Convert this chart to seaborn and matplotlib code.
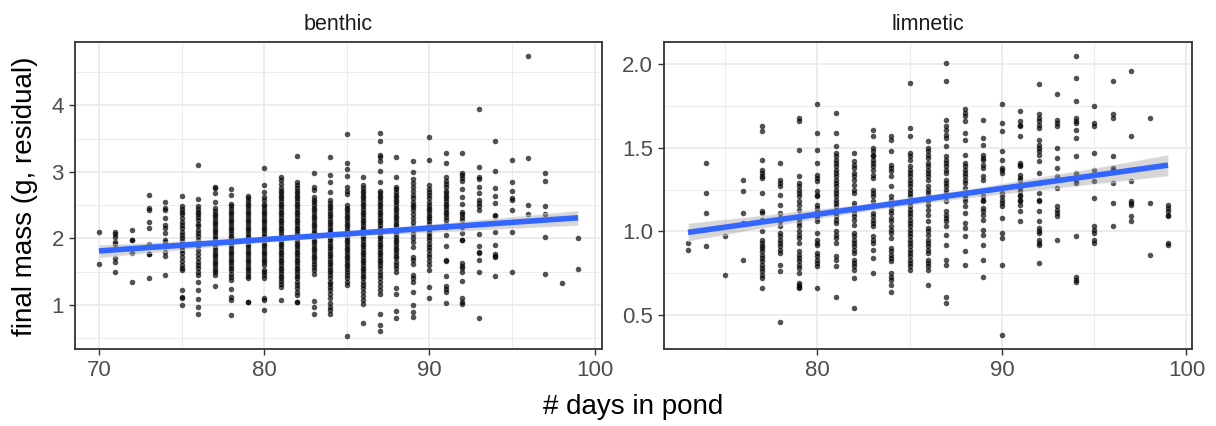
import numpy as np
import pandas as pd
import matplotlib
matplotlib.use("Agg")
import matplotlib.pyplot as plt
import seaborn as sns
from matplotlib.ticker import MultipleLocator, FormatStrFormatter
from matplotlib.collections import PolyCollection

# ---------------- data ----------------
panel_titles = ["benthic", "limnetic"]
x_label = "# days in pond"
y_label = "final mass (g, residual)"

benthic_days = list(range(70, 100))
benthic_mass = [
    [2.09, 1.61],
    [2.10, 2.06, 2.02, 1.95, 1.92, 1.70, 1.65, 1.49],
    [2.13, 1.98, 1.97, 1.78, 1.35],
    [2.65, 2.45, 2.43, 2.24, 2.15, 1.92, 1.77, 1.76, 1.41],
    [2.54, 2.45, 2.42, 2.31, 2.20, 2.15, 2.08, 1.98, 1.95, 1.88, 1.80, 1.74, 1.45],
    [2.64, 2.48, 2.44, 2.40, 2.36, 2.30, 2.25, 2.20, 2.15, 2.10, 2.05, 2.00, 1.96, 1.92, 1.87, 1.82, 1.78,
     1.72, 1.66, 1.60, 1.55, 1.52, 1.23, 1.12, 1.10, 1.00],
    [3.10, 2.59, 2.48, 2.44, 2.40, 2.36, 2.32, 2.27, 2.22, 2.18, 2.13, 2.08, 2.03, 1.98, 1.93, 1.88, 1.83,
     1.76, 1.70, 1.65, 1.60, 1.55, 1.50, 1.45, 1.35, 1.22, 1.09, 0.97, 0.87],
    [2.78, 2.76, 2.68, 2.55, 2.45, 2.41, 2.37, 2.33, 2.29, 2.25, 2.21, 2.17, 2.13, 2.09, 2.05, 2.01, 1.97,
     1.93, 1.89, 1.85, 1.81, 1.77, 1.73, 1.69, 1.65, 1.61, 1.57, 1.53, 1.49, 1.45, 1.28],
    [2.74, 2.65, 2.52, 2.48, 2.44, 2.40, 2.36, 2.32, 2.28, 2.24, 2.20, 2.16, 2.12, 2.08, 2.04, 2.00, 1.96,
     1.92, 1.88, 1.84, 1.80, 1.76, 1.72, 1.68, 1.64, 1.60, 1.56, 1.52, 1.47, 1.42, 1.38, 1.24, 1.12, 1.08, 0.85],
    [2.63, 2.60, 2.56, 2.52, 2.48, 2.44, 2.40, 2.36, 2.32, 2.28, 2.24, 2.20, 2.16, 2.12, 2.08, 2.04, 2.00,
     1.96, 1.92, 1.88, 1.84, 1.80, 1.76, 1.72, 1.68, 1.64, 1.60, 1.56, 1.52, 1.48, 1.44, 1.40, 1.04, 1.05],
    [3.06, 2.81, 2.70, 2.62, 2.57, 2.52, 2.48, 2.44, 2.40, 2.36, 2.32, 2.28, 2.24, 2.20, 2.16, 2.12, 2.08,
     2.04, 2.00, 1.96, 1.92, 1.88, 1.84, 1.80, 1.76, 1.72, 1.68, 1.64, 1.60, 1.53, 1.50, 1.45, 1.40, 1.11,
     1.07, 0.93],
    [2.93, 2.88, 2.82, 2.76, 2.72, 2.68, 2.64, 2.60, 2.56, 2.52, 2.48, 2.44, 2.40, 2.36, 2.32, 2.28, 2.24,
     2.20, 2.16, 2.12, 2.08, 2.04, 2.00, 1.96, 1.92, 1.88, 1.84, 1.80, 1.76, 1.72, 1.68, 1.64, 1.60, 1.56,
     1.52, 1.48, 1.44, 1.40, 1.36, 1.31, 1.27, 1.07],
    [3.24, 2.85, 2.80, 2.76, 2.72, 2.68, 2.64, 2.60, 2.56, 2.52, 2.48, 2.44, 2.40, 2.36, 2.32, 2.28, 2.24,
     2.20, 2.16, 2.12, 2.08, 2.04, 2.00, 1.96, 1.92, 1.88, 1.84, 1.80, 1.76, 1.72, 1.68, 1.64, 1.60, 1.56,
     1.52, 1.48, 1.44, 1.40, 1.35, 1.30, 1.25, 1.20, 1.15, 1.04, 1.05],
    [2.99, 2.78, 2.73, 2.62, 2.58, 2.54, 2.50, 2.46, 2.42, 2.38, 2.34, 2.30, 2.26, 2.22, 2.18, 2.14, 2.10,
     2.06, 2.02, 1.98, 1.94, 1.90, 1.86, 1.82, 1.78, 1.74, 1.70, 1.66, 1.62, 1.57, 1.52, 1.47, 1.06, 0.97, 0.86],
    [3.22, 2.96, 2.85, 2.70, 2.57, 2.53, 2.49, 2.45, 2.41, 2.37, 2.33, 2.29, 2.25, 2.21, 2.17, 2.13, 2.09,
     2.05, 2.01, 1.97, 1.93, 1.89, 1.85, 1.81, 1.77, 1.73, 1.69, 1.65, 1.61, 1.57, 1.53, 1.49, 1.45, 1.40,
     1.35, 1.31, 1.27, 1.22, 1.16, 1.10, 1.03, 0.97, 0.92, 0.87],
    [3.57, 3.14, 3.05, 2.94, 2.77, 2.72, 2.67, 2.50, 2.46, 2.42, 2.38, 2.34, 2.30, 2.26, 2.22, 2.18, 2.14,
     2.10, 2.06, 2.02, 1.98, 1.94, 1.90, 1.86, 1.82, 1.78, 1.74, 1.70, 1.66, 1.62, 1.58, 1.54, 1.50, 1.45,
     1.40, 1.35, 1.30, 0.53],
    [2.92, 2.80, 2.76, 2.72, 2.68, 2.64, 2.60, 2.56, 2.52, 2.48, 2.44, 2.40, 2.36, 2.32, 2.28, 2.24, 2.20,
     2.16, 2.12, 2.08, 2.04, 2.00, 1.96, 1.92, 1.88, 1.84, 1.80, 1.76, 1.72, 1.68, 1.64, 1.60, 1.56, 1.52,
     1.48, 1.44, 1.40, 1.35, 1.30, 1.25, 1.19, 1.13, 1.07, 1.02, 0.73],
    [3.58, 3.47, 3.26, 3.22, 3.17, 3.02, 2.85, 2.72, 2.68, 2.64, 2.60, 2.56, 2.52, 2.48, 2.44, 2.40, 2.36,
     2.32, 2.28, 2.24, 2.20, 2.16, 2.12, 2.08, 2.04, 2.00, 1.96, 1.92, 1.88, 1.84, 1.80, 1.76, 1.72, 1.68,
     1.64, 1.60, 1.55, 1.50, 1.45, 1.40, 1.35, 1.29, 1.23, 1.17, 0.86, 0.70, 0.61],
    [3.23, 2.92, 2.78, 2.74, 2.70, 2.66, 2.62, 2.58, 2.54, 2.50, 2.46, 2.42, 2.38, 2.34, 2.30, 2.26, 2.22,
     2.18, 2.14, 2.10, 2.06, 2.02, 1.98, 1.94, 1.90, 1.86, 1.82, 1.78, 1.74, 1.70, 1.65, 1.60, 1.55, 1.50,
     1.25, 1.16, 0.91, 0.81],
    [3.16, 3.00, 2.90, 2.84, 2.78, 2.72, 2.66, 2.60, 2.55, 2.50, 2.47, 2.42, 2.36, 2.30, 2.24, 2.18, 2.12,
     2.06, 2.00, 1.94, 1.87, 1.72, 1.67, 1.62, 1.45, 1.40, 1.35, 1.20, 1.00, 0.90, 0.82],
    [3.52, 3.18, 2.80, 2.75, 2.70, 2.65, 2.60, 2.55, 2.50, 2.46, 2.42, 2.38, 2.34, 2.30, 2.26, 2.22, 2.18,
     2.14, 2.10, 2.06, 2.02, 1.97, 1.92, 1.87, 1.82, 1.77, 1.72, 1.66, 1.60, 1.52, 1.27, 1.10],
    [3.28, 3.13, 2.92, 2.87, 2.82, 2.77, 2.72, 2.68, 2.64, 2.60, 2.56, 2.52, 2.48, 2.44, 2.40, 2.36, 2.32,
     2.27, 2.22, 2.17, 2.05, 1.88, 1.67, 1.66, 1.43, 1.28, 1.24, 1.20, 1.03],
    [3.28, 2.98, 2.95, 2.91, 2.87, 2.75, 2.62, 2.52, 2.40, 2.36, 2.32, 2.27, 2.17, 2.08, 1.98, 1.97, 1.63,
     1.59, 1.55, 1.50, 1.36, 1.10, 1.05, 1.01],
    [3.94, 3.07, 2.93, 2.89, 2.77, 2.68, 2.57, 2.53, 2.48, 2.42, 2.07, 1.88, 1.79, 1.78, 1.67, 1.50, 0.81],
    [3.47, 3.01, 2.76, 2.63, 2.53, 2.35, 2.34, 2.09, 1.90, 1.77, 1.74, 1.72, 1.43],
    [3.18, 2.85, 2.71, 2.61, 2.58, 2.43, 2.10, 1.49],
    [4.74, 3.21, 2.50, 2.37],
    [2.99, 2.87, 2.49, 2.36, 2.02, 1.47],
    [1.33],
    [2.00, 1.54],
]

limnetic_days = list(range(73, 100))
limnetic_mass = [
    [0.93, 0.89],
    [1.41, 1.23, 1.11, 0.91],
    [0.97, 0.74],
    [1.31, 1.24, 1.11, 1.05, 0.83],
    [1.63, 1.60, 1.43, 1.37, 1.35, 1.33, 1.32, 1.23, 1.12, 1.11, 1.07, 1.00, 0.95, 0.93, 0.91, 0.90, 0.88,
     0.86, 0.84, 0.82, 0.80, 0.78, 0.76, 0.74, 0.72, 0.66],
    [1.41, 1.31, 1.29, 1.27, 1.22, 1.16, 1.11, 1.08, 1.06, 1.03, 0.99, 0.97, 0.95, 0.93, 0.91, 0.89, 0.87,
     0.80, 0.76, 0.46],
    [1.68, 1.66, 1.49, 1.33, 1.29, 1.27, 1.25, 1.23, 1.21, 1.18, 1.16, 1.13, 1.09, 1.07, 1.05, 1.03, 1.00,
     0.98, 0.96, 0.93, 0.88, 0.86, 0.84, 0.82, 0.80, 0.78, 0.75, 0.69, 0.68, 0.67, 0.66],
    [1.76, 1.59, 1.49, 1.41, 1.34, 1.32, 1.30, 1.24, 1.22, 1.21, 1.16, 1.14, 1.12, 1.10, 1.08, 1.06, 0.99,
     0.95, 0.93, 0.92, 0.87, 0.85, 0.83, 0.81, 0.79, 0.66],
    [1.71, 1.59, 1.51, 1.47, 1.45, 1.43, 1.41, 1.39, 1.37, 1.35, 1.33, 1.31, 1.29, 1.27, 1.25, 1.23, 1.21,
     1.19, 1.17, 1.15, 1.13, 1.11, 1.09, 1.07, 1.05, 1.00, 0.98, 0.96, 0.93, 0.85, 0.83, 0.79, 0.61],
    [1.47, 1.42, 1.40, 1.38, 1.35, 1.33, 1.31, 1.28, 1.25, 1.23, 1.17, 1.15, 1.13, 1.11, 1.09, 1.07, 1.04,
     0.99, 0.97, 0.95, 0.93, 0.91, 0.89, 0.87, 0.83, 0.81, 0.79, 0.77, 0.72, 0.54],
    [1.61, 1.57, 1.50, 1.48, 1.46, 1.45, 1.43, 1.41, 1.39, 1.37, 1.34, 1.32, 1.25, 1.23, 1.21, 1.18, 1.16,
     1.15, 1.11, 1.09, 1.07, 1.05, 1.03, 0.97, 0.95, 0.93, 0.89, 0.84, 0.75],
    [1.57, 1.55, 1.48, 1.40, 1.38, 1.36, 1.33, 1.27, 1.21, 1.19, 1.15, 1.13, 1.11, 1.08, 1.06, 1.03, 1.01,
     0.99, 0.96, 0.90, 0.88, 0.86, 0.84, 0.82, 0.75, 0.73, 0.71, 0.68, 0.64],
    [1.89, 1.62, 1.57, 1.47, 1.45, 1.43, 1.39, 1.37, 1.35, 1.33, 1.31, 1.29, 1.27, 1.25, 1.23, 1.21, 1.19,
     1.17, 1.15, 1.13, 1.11, 1.09, 1.07, 1.05, 1.03, 1.01, 0.99, 0.97, 0.95, 0.93, 0.91, 0.89, 0.87, 0.85,
     0.83, 0.81, 0.79, 0.77],
    [1.54, 1.50, 1.48, 1.46, 1.44, 1.41, 1.39, 1.37, 1.35, 1.33, 1.31, 1.27, 1.25, 1.23, 1.21, 1.18, 1.16,
     1.13, 1.10, 1.06, 1.02, 1.00, 0.98, 0.95, 0.93, 0.91, 0.89, 0.87, 0.83, 0.81, 0.79, 0.77, 0.68],
    [2.01, 1.90, 1.67, 1.63, 1.61, 1.58, 1.56, 1.51, 1.45, 1.43, 1.41, 1.39, 1.37, 1.35, 1.31, 1.29, 1.27,
     1.25, 1.23, 1.21, 1.18, 1.12, 1.10, 1.08, 1.06, 1.03, 0.98, 0.92, 0.83, 0.80, 0.61, 0.57],
    [1.73, 1.71, 1.69, 1.66, 1.59, 1.55, 1.46, 1.41, 1.39, 1.37, 1.35, 1.33, 1.31, 1.29, 1.26, 1.22, 1.20,
     1.18, 1.15, 1.11, 1.05, 1.02, 0.97, 0.88, 0.80],
    [1.67, 1.56, 1.52, 1.46, 1.44, 1.43, 1.40, 1.38, 1.33, 1.31, 1.21, 1.19, 1.18, 1.14, 1.12, 1.10, 1.07,
     1.01, 0.98, 0.92, 0.83, 0.73],
    [1.76, 1.65, 1.60, 1.48, 1.43, 1.38, 1.37, 1.35, 1.23, 1.21, 1.19, 1.17, 1.15, 1.08, 0.99, 0.96, 0.80, 0.38],
    [1.72, 1.66, 1.64, 1.63, 1.57, 1.41, 1.40, 1.39, 1.34, 1.32, 1.31, 1.26, 1.24, 1.22, 1.21, 1.19, 1.18,
     1.16, 1.12, 1.06],
    [1.88, 1.70, 1.68, 1.66, 1.64, 1.62, 1.55, 1.52, 1.50, 1.48, 1.46, 1.42, 1.35, 1.29, 1.23, 1.19, 1.18,
     1.12, 1.06, 1.02, 1.00, 0.99, 0.95, 0.93, 0.92, 0.81],
    [1.82, 1.67, 1.65, 1.63, 1.50, 1.44, 1.38, 1.33, 1.26, 1.15, 1.13, 1.11, 1.09, 0.95],
    [2.05, 1.92, 1.78, 1.68, 1.66, 1.65, 1.61, 1.56, 1.45, 1.35, 1.31, 1.29, 0.97, 0.73, 0.71, 0.70],
    [1.75, 1.65, 1.63, 1.47, 1.37, 1.30, 1.20, 1.03, 1.01, 0.99, 0.95, 0.93],
    [1.90, 1.70, 1.68, 1.45, 1.38, 1.37, 1.29, 1.17, 1.03],
    [1.96, 1.57, 1.30, 1.18, 1.17, 1.16, 1.09, 1.06],
    [1.68, 1.17, 0.86],
    [1.16, 1.14, 1.12, 1.10, 1.09, 0.93, 0.92],
]

benthic_xticks = [70, 80, 90, 100]
benthic_yticks = [1, 2, 3, 4]
limnetic_xticks = [80, 90, 100]
limnetic_yticks = [0.5, 1.0, 1.5, 2.0]


def to_frame(days, masses):
    rows = [(d, m) for d, ms in zip(days, masses) for m in ms]
    return pd.DataFrame(rows, columns=["days", "mass"])


df_b = to_frame(benthic_days, benthic_mass)
df_l = to_frame(limnetic_days, limnetic_mass)

# ---------------- styling ----------------
sns.set_theme(style="white")
plt.rcParams["font.family"] = ["Liberation Sans", "DejaVu Sans"]

W, H = 1216, 426
fig = plt.figure(figsize=(W / 100, H / 100), dpi=100)

def frac(x0, y0, x1, y1):
    return [x0 / W, 1 - y1 / H, (x1 - x0) / W, (y1 - y0) / H]

ax_b = fig.add_axes(frac(75, 42, 602, 349))
ax_l = fig.add_axes(frac(664, 42, 1192, 349))

panels = [
    (ax_b, df_b, panel_titles[0], benthic_xticks, benthic_yticks, (68.55, 100.45), (0.34, 4.95), "%d"),
    (ax_l, df_l, panel_titles[1], limnetic_xticks, limnetic_yticks, (71.7, 100.3), (0.296, 2.134), "%.1f"),
]

for ax, df, title, xt, yt, xl, yl, fmt in panels:
    ax.set_facecolor("white")
    ax.set_axisbelow(True)
    sns.scatterplot(data=df, x="days", y="mass", ax=ax, color="black", alpha=0.68,
                    s=16, linewidth=0, zorder=2)
    sns.regplot(data=df, x="days", y="mass", ax=ax, scatter=False, ci=95, n_boot=500, seed=3,
                color="#3366FF", line_kws={"lw": 4.0, "zorder": 4, "solid_capstyle": "butt"})
    for coll in ax.collections:
        if isinstance(coll, PolyCollection):
            coll.set_facecolor("#999999")
            coll.set_alpha(0.4)
            coll.set_zorder(3)
    ax.set_xlim(*xl)
    ax.set_ylim(*yl)
    ax.set_xticks(xt)
    ax.set_yticks(yt)
    ax.yaxis.set_major_formatter(FormatStrFormatter(fmt))
    ax.xaxis.set_minor_locator(MultipleLocator(5))
    ax.yaxis.set_minor_locator(MultipleLocator((yt[1] - yt[0]) / 2))
    ax.grid(True, which="major", color="#EBEBEB", lw=1.3)
    ax.grid(True, which="minor", color="#EBEBEB", lw=0.65)
    ax.tick_params(which="major", length=4, width=1.0, color="#333333", pad=4,
                   labelsize=16, labelcolor="#4D4D4D", left=True, bottom=True)
    ax.tick_params(which="minor", length=0)
    for sp in ax.spines.values():
        sp.set_color("#333333")
        sp.set_linewidth(1.3)
        sp.set_zorder(5)
    ax.set_xlabel("")
    ax.set_ylabel("")
    ax.set_title(title, fontsize=15.5, color="#1A1A1A", pad=9)

fig.text(633 / W, 1 - 407 / H, x_label, ha="center", va="center", fontsize=20, color="black")
fig.text(25 / W, 1 - 196 / H, y_label, ha="center", va="center", rotation=90, fontsize=20, color="black")

fig.savefig("out.png", dpi=100)
